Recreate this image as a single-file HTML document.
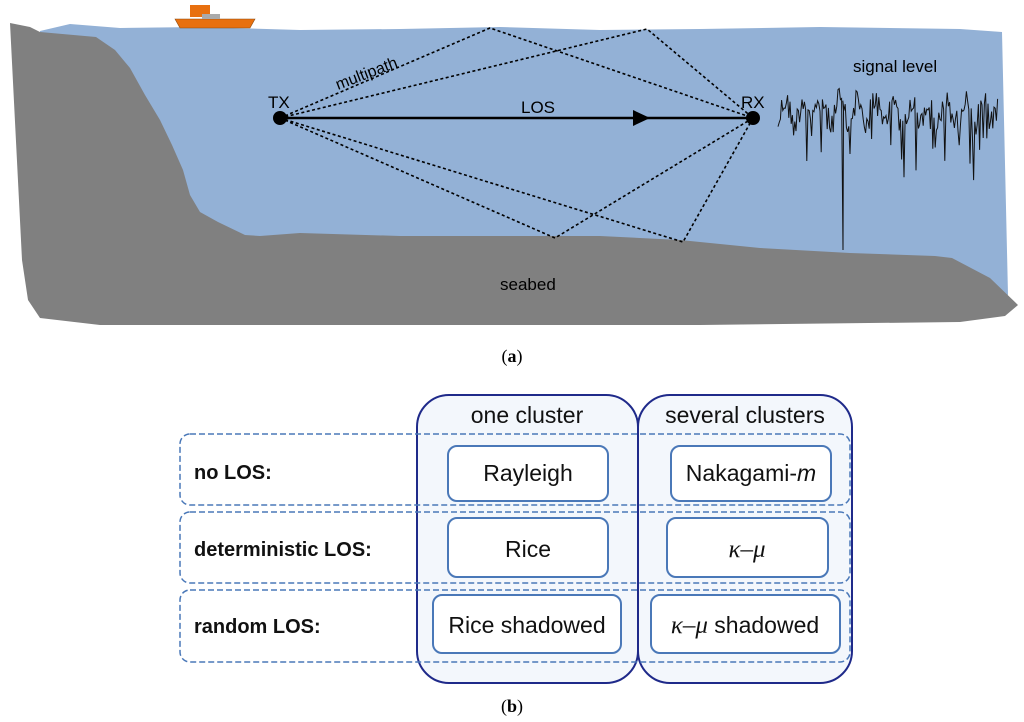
<!DOCTYPE html>
<html><head><meta charset="utf-8"><style>
body{margin:0;background:#fff;}
svg{display:block;font-family:"Liberation Sans",sans-serif;}
</style></head><body>
<svg width="1024" height="722" viewBox="0 0 1024 722" xmlns="http://www.w3.org/2000/svg">
<polygon points="40,31 70,24 120,28 200,27 300,30 400,29 500,27 600,30 700,29 820,27 960,29 1002,32 1008,295 900,300 40,300" fill="#93b1d6"/>
<polygon points="10,23 30,27 40,32 96,37 115,50 130,68 145,95 160,120 172,145 183,170 190,195 200,212 218,222 245,235 260,236 300,233 400,236 500,236 600,236 680,240 760,248 850,253 935,256 952,258 990,278 1018,305 1005,316 960,322 700,325 100,325 40,318 28,300 22,260" fill="#808080"/>
<g>
<polygon points="175,19 255,19 250,28 180,28" fill="#e8700f" stroke="#8a4a10" stroke-width="0.6"/>
<rect x="190" y="5" width="20" height="12" fill="#e8700f"/>
<rect x="202" y="14" width="18" height="5" fill="#aaa"/>
</g>
<g stroke="#000" stroke-width="1.6" stroke-dasharray="3,2.5" fill="none">
<polyline points="280,118 490,28 753,118"/>
<polyline points="280,118 647,29 753,118"/>
<polyline points="280,118 555,238 753,118"/>
<polyline points="280,118 683,242 753,118"/>
</g>
<line x1="280" y1="118" x2="753" y2="118" stroke="#000" stroke-width="2.5"/>
<polygon points="633,110 650,118 633,126" fill="#000"/>
<circle cx="280" cy="118" r="7" fill="#000"/>
<circle cx="753" cy="118" r="7" fill="#000"/>
<text x="268" y="108" font-size="17">TX</text>
<text x="741" y="108" font-size="17">RX</text>
<text x="521" y="113" font-size="17">LOS</text>
<text x="338" y="90" font-size="16" transform="rotate(-21 338 90)">multipath</text>
<text x="853" y="72" font-size="17">signal level</text>
<text x="500" y="290" font-size="17">seabed</text>
<polyline id="sig" fill="none" stroke="#111" stroke-width="1" points=""/>
<text x="512" y="362" font-size="18" text-anchor="middle" font-family="Liberation Serif">(<tspan font-weight="bold">a</tspan>)</text>

<rect x="417" y="395" width="221" height="288" rx="32" fill="#f3f7fc" stroke="#1f2a8a" stroke-width="2"/>
<rect x="638" y="395" width="214" height="288" rx="32" fill="#f3f7fc" stroke="#1f2a8a" stroke-width="2"/>
<g fill="none" stroke="#4a78b8" stroke-width="1.5" stroke-dasharray="6,3">
<rect x="180" y="434" width="670" height="71" rx="10"/>
<rect x="180" y="512" width="670" height="71" rx="10"/>
<rect x="180" y="590" width="670" height="72" rx="10"/>
</g>
<g fill="#fff" stroke="#4a78b8" stroke-width="2">
<rect x="448" y="446" width="160" height="55" rx="9"/>
<rect x="671" y="446" width="160" height="55" rx="9"/>
<rect x="448" y="518" width="160" height="59" rx="9"/>
<rect x="667" y="518" width="161" height="59" rx="9"/>
<rect x="433" y="595" width="188" height="58" rx="9"/>
<rect x="651" y="595" width="189" height="58" rx="9"/>
</g>
<g font-size="23" text-anchor="middle" fill="#111">
<text x="527" y="423">one cluster</text>
<text x="745" y="423">several clusters</text>
<text x="528" y="481">Rayleigh</text>
<text x="751" y="481">Nakagami-<tspan font-style="italic">m</tspan></text>
<text x="528" y="557">Rice</text>
<text x="747" y="557" font-family="Liberation Serif" font-style="italic" font-size="25">κ–μ</text>
<text x="527" y="633">Rice shadowed</text>
<text x="745" y="633"><tspan font-family="Liberation Serif" font-style="italic" font-size="25">κ–μ</tspan> shadowed</text>
</g>
<g font-size="20" font-weight="bold" fill="#111">
<text x="194" y="479">no LOS:</text>
<text x="194" y="556">deterministic LOS:</text>
<text x="194" y="633">random LOS:</text>
</g>
<text x="512" y="712" font-size="18" text-anchor="middle" font-family="Liberation Serif">(<tspan font-weight="bold">b</tspan>)</text>
</svg>
<script>
(function(){var s=12345;function r(){s=(s*1103515245+12345)%2147483648;return s/2147483648;}
var p=[];for(var x=778;x<=998;x+=1.2){var y=112+Math.sin(x*0.35)*12+(r()-0.5)*28;if(r()<0.1)y+=30+r()*30;p.push(x.toFixed(1)+','+y.toFixed(1));}
p.splice(Math.round((843-778)/1.2),0,'843,250','843.5,110');
document.getElementById('sig').setAttribute('points',p.join(' '));})();
</script>
</body></html>
